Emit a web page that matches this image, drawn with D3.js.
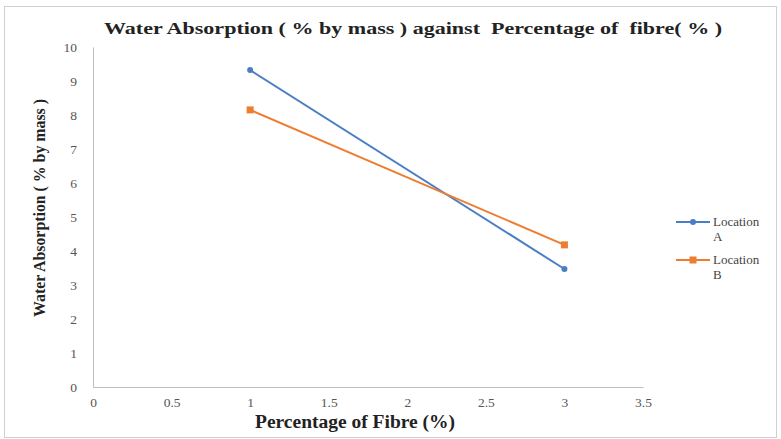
<!DOCTYPE html>
<html><head><meta charset="utf-8">
<script src="https://cdn.jsdelivr.net/npm/d3@7"></script>
<style>body{margin:0;background:#fff}svg{display:block}text{white-space:pre}</style>
</head><body>
<script>
const fibre = [1, 3];
const locationA = [9.32, 3.47];
const locationB = [8.15, 4.18];
const seriesNames = ["Location A", "Location B"];
const xTicks = [0, 0.5, 1, 1.5, 2, 2.5, 3, 3.5];
const yTicks = [0,1,2,3,4,5,6,7,8,9,10];

const W = 781, H = 439;
const SERIF = "'Liberation Serif', 'DejaVu Serif', serif";
const svg = d3.select("body").append("svg").attr("width", W).attr("height", H);
svg.append("rect").attr("x",4.5).attr("y",6.5).attr("width",W-9).attr("height",H-8)
  .attr("fill","#fff").attr("stroke","#cfcfcf");

const x = d3.scaleLinear().domain([0,3.5]).range([93,643]);
const y = d3.scaleLinear().domain([0,10]).range([387,47]);

const xAxis = svg.append("g").attr("transform","translate(0,387)")
  .call(d3.axisBottom(x).tickValues(xTicks).tickSize(0).tickPadding(10).tickFormat(d3.format("")));
xAxis.select(".domain").attr("stroke","#bfbfbf");
xAxis.selectAll("text").style("font-family",SERIF).attr("font-size",13.5).attr("fill","#555");

const yAxis = svg.append("g").attr("transform","translate(93,0)")
  .call(d3.axisLeft(y).tickValues(yTicks).tickSize(0).tickPadding(16).tickFormat(d3.format("")));
yAxis.select(".domain").attr("stroke","#bfbfbf");
yAxis.selectAll("text").style("font-family",SERIF).attr("font-size",13.5).attr("fill","#555");

svg.append("text").attr("x",104).attr("y",34)
  .style("font-family",SERIF).attr("font-weight","bold").attr("font-size",17)
  .attr("textLength",618).attr("lengthAdjust","spacingAndGlyphs")
  .attr("fill","#222").text("Water Absorption ( % by mass ) against  Percentage of  fibre( % )");

svg.append("text").attr("x",355).attr("y",428).attr("text-anchor","middle")
  .style("font-family",SERIF).attr("font-weight","bold").attr("font-size",18)
  .attr("textLength",200).attr("lengthAdjust","spacingAndGlyphs")
  .attr("fill","#222").text("Percentage of Fibre (%)");

svg.append("text").attr("transform","translate(45,208) rotate(-90)").attr("text-anchor","middle")
  .style("font-family",SERIF).attr("font-weight","bold").attr("font-size",17)
  .attr("textLength",218).attr("lengthAdjust","spacingAndGlyphs")
  .attr("fill","#222").text("Water Absorption ( % by mass )");

const colors = ["#4a7ec4","#ed7d31"];
const data = [locationA, locationB];
const line = d3.line().x((d,i)=>x(fibre[i])).y(d=>y(d));
data.forEach((s,k)=>{
  svg.append("path").datum(s).attr("d",line).attr("fill","none")
    .attr("stroke",colors[k]).attr("stroke-width",2);
  s.forEach((v,i)=>{
    if(k===0) svg.append("circle").attr("cx",x(fibre[i])).attr("cy",y(v)).attr("r",3).attr("fill",colors[k]);
    else svg.append("rect").attr("x",x(fibre[i])-3.5).attr("y",y(v)-3.5).attr("width",7).attr("height",7).attr("fill",colors[k]);
  });
});

const lg = svg.append("g");
seriesNames.forEach((name,k)=>{
  const ly = 222 + k*38;
  lg.append("line").attr("x1",676).attr("x2",710).attr("y1",ly).attr("y2",ly).attr("stroke",colors[k]).attr("stroke-width",2);
  if(k===0) lg.append("circle").attr("cx",693).attr("cy",ly).attr("r",3).attr("fill",colors[k]);
  else lg.append("rect").attr("x",689.5).attr("y",ly-3.5).attr("width",7).attr("height",7).attr("fill",colors[k]);
  const parts = name.split(" ");
  const t = lg.append("text").style("font-family",SERIF).attr("font-size",13).attr("fill","#444");
  t.append("tspan").attr("x",713).attr("y",ly+4).text(parts[0]);
  t.append("tspan").attr("x",713).attr("y",ly+19).text(parts[1]);
});
</script>
</body></html>
